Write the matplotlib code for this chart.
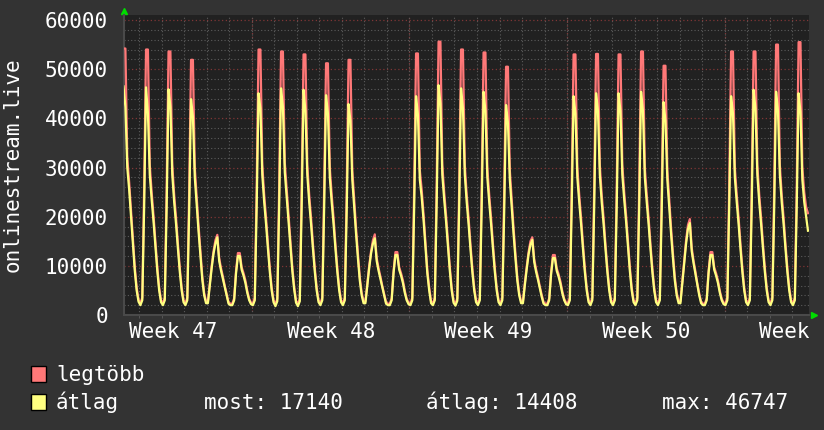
import numpy as np
import matplotlib

matplotlib.use("Agg")
import matplotlib.pyplot as plt
from matplotlib.patches import Patch
from matplotlib.ticker import FixedFormatter, FixedLocator, MultipleLocator
from matplotlib.transforms import Bbox, TransformedBbox


# one sample every 2 hours (middle of each 2h bin), first sample: Tuesday of
# week 47, 07:00 (hours counted from Monday 00:00 of week 47)
START_HOUR = 31
STEP_HOURS = 2
VIEW_HOURS = (31.5, 762.1)

# "legtöbb" = maximum, one row per day
MAX_W47 = [
    54200, 54200, 32000, 27000, 21200, 15500, 9800, 5600, 3100,
    2400, 3500, 26000, 54000, 54000, 30500, 25000, 20200, 15000, 9800, 5600, 3000,
    2400, 3500, 26000, 53600, 53600, 30500, 24500, 19800, 14500, 9600, 5600, 3000,
    2400, 3500, 25000, 51900, 51900, 30000, 24000, 18200, 13000, 7900, 4500, 2800,
    2800, 6500, 10000, 13000, 15200, 16300, 11600, 9500, 7800, 5900, 4200, 2600,
    2300, 2300, 3400, 9000, 12600, 12600, 9700, 8500, 7000, 4900, 3300, 2500,
]
MAX_W48 = [
    2300, 3500, 26000, 54000, 54000, 30500, 24500, 19800, 14500, 9600, 5600, 3000,
    2200, 3300, 26000, 53600, 53600, 31000, 25500, 20300, 15000, 9800, 5800, 2900,
    2200, 3300, 26000, 53000, 53000, 30500, 24500, 19800, 14500, 9600, 5600, 3000,
    2400, 3500, 26000, 51200, 51200, 30000, 24500, 19800, 14500, 9600, 5600, 3000,
    2400, 3500, 25000, 51900, 51900, 29500, 23500, 17700, 12500, 7700, 4500, 2800,
    2800, 6500, 10000, 13000, 15200, 16400, 11600, 9500, 7800, 5900, 4200, 2600,
    2300, 2300, 3400, 9000, 12800, 12800, 9700, 8500, 7000, 4900, 3300, 2500,
]
MAX_W49 = [
    2300, 3500, 26000, 53200, 53200, 29500, 25500, 20500, 14800, 9200, 5600, 2800,
    2400, 3500, 27000, 55600, 55600, 30500, 25000, 20300, 15000, 9800, 5600, 2900,
    2300, 3400, 26000, 54000, 54000, 30500, 24500, 19800, 14500, 9600, 5600, 3000,
    2400, 3500, 26000, 53400, 53400, 30000, 24500, 19800, 14500, 9600, 5600, 3000,
    2400, 3500, 25000, 50500, 50500, 29500, 23500, 17700, 12500, 7700, 4500, 2800,
    2800, 6500, 9800, 12800, 15000, 15800, 11400, 9300, 7700, 5800, 4100, 2600,
    2300, 2300, 3400, 8700, 12200, 12200, 9500, 8300, 6800, 4800, 3300, 2500,
]
MAX_W50 = [
    2400, 3500, 26000, 53000, 53000, 30000, 24500, 19800, 14500, 9600, 5600, 3000,
    2400, 3500, 26000, 53100, 53100, 30500, 24500, 19800, 14500, 9600, 5600, 3000,
    2400, 3500, 26000, 53000, 53000, 30500, 25000, 20300, 15000, 9800, 5600, 3000,
    2400, 3500, 26000, 53600, 53600, 30000, 24500, 19800, 14500, 9600, 5600, 3000,
    2400, 3500, 25000, 50700, 50700, 29500, 23500, 17700, 12500, 7700, 4500, 2800,
    2800, 7000, 11000, 15200, 18300, 19500, 13700, 11000, 8800, 6400, 4400, 2700,
    2300, 2300, 3400, 9000, 12800, 12800, 9700, 8500, 7000, 4900, 3300, 2500,
]
MAX_W51 = [
    2400, 3500, 26000, 53600, 53600, 30000, 24500, 19800, 14500, 9600, 5600, 3000,
    2400, 3500, 26000, 53600, 53600, 30500, 24500, 19800, 14500, 9600, 5600, 3000,
    2400, 3500, 26000, 55000, 55000, 30500, 24500, 19800, 14500, 9600, 5600, 3000,
    2400, 3500, 26000, 55500, 55500, 30000, 25000, 22000, 20700,
]

# "átlag" = average
AVG_W47 = [
    46500, 42300, 30000, 25500, 20000, 14500, 9000, 5000, 2700,
    2000, 3000, 22000, 46300, 41000, 28500, 23500, 19000, 14000, 9000, 5000, 2600,
    2000, 3000, 22000, 45900, 42300, 28500, 23000, 18500, 13500, 8800, 5000, 2600,
    2000, 3000, 21000, 43900, 40300, 28000, 22500, 17000, 12000, 7200, 4000, 2400,
    2400, 6000, 9500, 12500, 14500, 15800, 11000, 9000, 7300, 5500, 3800, 2300,
    2000, 2000, 3000, 8500, 12000, 12000, 9200, 8000, 6500, 4500, 3000, 2200,
]
AVG_W48 = [
    2000, 3000, 22000, 45100, 42000, 28500, 23000, 18500, 13500, 8800, 5000, 2600,
    1800, 2800, 22000, 46100, 42300, 29000, 24000, 19000, 14000, 9000, 5200, 2500,
    1800, 2800, 22000, 45800, 41500, 28500, 23000, 18500, 13500, 8800, 5000, 2600,
    2000, 3000, 22000, 44700, 41000, 28000, 23000, 18500, 13500, 8800, 5000, 2600,
    2000, 3000, 21000, 42900, 39500, 27500, 22000, 16500, 11500, 7000, 4000, 2400,
    2400, 6000, 9500, 12500, 14500, 15600, 11000, 9000, 7300, 5500, 3800, 2300,
    2000, 2000, 3000, 8500, 12200, 12200, 9200, 8000, 6500, 4500, 3000, 2200,
]
AVG_W49 = [
    2000, 3000, 22000, 44500, 40700, 27500, 24000, 19300, 13800, 8500, 5000, 2400,
    2000, 3000, 23000, 46747, 43000, 28500, 23500, 19000, 14000, 9000, 5000, 2500,
    1900, 2900, 22000, 46100, 42000, 28500, 23000, 18500, 13500, 8800, 5000, 2600,
    2000, 3000, 22000, 45400, 41500, 28000, 23000, 18500, 13500, 8800, 5000, 2600,
    2000, 3000, 21000, 42700, 39000, 27500, 22000, 16500, 11500, 7000, 4000, 2400,
    2400, 6000, 9300, 12300, 14300, 15300, 10800, 8800, 7200, 5400, 3700, 2300,
    2000, 2000, 3000, 8200, 11600, 11600, 9000, 7800, 6300, 4400, 3000, 2200,
]
AVG_W50 = [
    2000, 3000, 22000, 44500, 41000, 28000, 23000, 18500, 13500, 8800, 5000, 2600,
    2000, 3000, 22000, 45100, 41500, 28500, 23000, 18500, 13500, 8800, 5000, 2600,
    2000, 3000, 22000, 45100, 41500, 28500, 23500, 19000, 14000, 9000, 5000, 2600,
    2000, 3000, 22000, 45400, 41500, 28000, 23000, 18500, 13500, 8800, 5000, 2600,
    2000, 3000, 21000, 43300, 39500, 27500, 22000, 16500, 11500, 7000, 4000, 2400,
    2400, 6500, 10500, 14500, 17500, 18700, 13000, 10500, 8300, 6000, 4000, 2400,
    2000, 2000, 3000, 8500, 12200, 12200, 9200, 8000, 6500, 4500, 3000, 2200,
]
AVG_W51 = [
    2000, 3000, 22000, 44500, 41000, 28000, 23000, 18500, 13500, 8800, 5000, 2600,
    2000, 3000, 22000, 45800, 42000, 28500, 23000, 18500, 13500, 8800, 5000, 2600,
    2000, 3000, 22000, 45400, 41500, 28500, 23000, 18500, 13500, 8800, 5000, 2600,
    2000, 3000, 22000, 45100, 41300, 27500, 23000, 20000, 17140,
]

WEEK_LABELS = ["Week 47", "Week 48", "Week 49", "Week 50", "Week 51"]
SERIES_LABELS = ["legtöbb", "átlag"]
STATS = [("most", 17140), ("átlag", 14408), ("max", 46747)]

BACK = "#333333"
CANVAS = "#212121"
GRID = "#5c5c5c"
MGRID = "#7f3636"
AXIS = "#4a4a4a"
FONT_COLOR = "#ffffff"
ARROW = "#00dd00"
MAX_COLOR = "#ff7878"
AVG_COLOR = "#ffff80"
FONT = {"family": "DejaVu Sans Mono", "size": 15}

W, H = 824, 430


def main() -> None:
    max_vals = np.array(MAX_W47 + MAX_W48 + MAX_W49 + MAX_W50 + MAX_W51, dtype=float)
    avg_vals = np.array(AVG_W47 + AVG_W48 + AVG_W49 + AVG_W50 + AVG_W51, dtype=float)
    hours = START_HOUR + STEP_HOURS * np.arange(len(avg_vals))

    fig = plt.figure(figsize=(W / 100, H / 100), dpi=100, facecolor=BACK)
    ax = fig.add_axes([124 / W, (H - 315) / H, 685 / W, 300 / H])
    ax.set_facecolor(CANVAS)

    ax.plot(hours, max_vals, color=MAX_COLOR, lw=1.6, zorder=3)
    ax.plot(hours, avg_vals, color=AVG_COLOR, lw=1.6, zorder=4)

    ax.set_xlim(*VIEW_HOURS)
    ax.set_ylim(0, 60000 * 300 / 295)

    # y grid: 10000 major (red), 2000 minor (grey)
    ax.yaxis.set_major_locator(MultipleLocator(10000))
    ax.yaxis.set_minor_locator(MultipleLocator(2000))
    ax.grid(which="major", axis="y", color=MGRID, linestyle=(0, (1, 2)), lw=0.9, zorder=1)
    ax.grid(which="minor", axis="both", color=GRID, linestyle=(0, (1, 2)), lw=0.8, zorder=0)

    # x: one line per day, red line per week, labels mid-week
    week_starts = np.arange(168, VIEW_HOURS[1], 168)
    label_pos = 84 + 168 * np.arange(len(WEEK_LABELS))
    ax.xaxis.set_minor_locator(MultipleLocator(24))
    ax.xaxis.set_major_locator(FixedLocator(label_pos))
    ax.xaxis.set_major_formatter(FixedFormatter(WEEK_LABELS))
    for ws in week_starts:
        ax.axvline(ws, color=MGRID, linestyle=(0, (1, 2)), lw=0.9, zorder=1)

    ax.tick_params(axis="x", which="major", length=0, pad=5, colors=FONT_COLOR, labelsize=FONT["size"])
    ax.tick_params(axis="x", which="minor", length=2, color=GRID)
    ax.tick_params(axis="y", which="both", length=0, pad=11.5, colors=FONT_COLOR, labelsize=FONT["size"])
    for lab in ax.get_xticklabels() + ax.get_yticklabels():
        lab.set_fontfamily(FONT["family"])

    # the last week label is cut at the canvas edge, as in rrdtool
    clip = TransformedBbox(Bbox([[0, 0], [809 / W, 1]]), fig.transFigure)
    for lab in ax.get_xticklabels():
        lab.set_clip_box(clip)
        lab.set_clip_on(True)

    for side in ("top", "right"):
        ax.spines[side].set_visible(False)
    for side in ("left", "bottom"):
        ax.spines[side].set_color(AXIS)
        ax.spines[side].set_linewidth(1.5)

    ax.set_ylabel("onlinestream.live", color=FONT_COLOR, fontdict=FONT)
    ax.yaxis.set_label_coords((23 - 124) / 685, 0.5)

    # rrdtool style arrows
    ax.plot([0], [1 + 4.5 / 300], marker="^", ms=4.5, color=ARROW, transform=ax.transAxes, clip_on=False)
    ax.plot([1 + 5 / 685], [0], marker=">", ms=4.5, color=ARROW, transform=ax.transAxes, clip_on=False)

    handles = [
        Patch(facecolor=MAX_COLOR, edgecolor="black", lw=1, label=SERIES_LABELS[0]),
        Patch(facecolor=AVG_COLOR, edgecolor="black", lw=1, label=SERIES_LABELS[1]),
    ]
    fig.legend(
        handles=handles,
        loc="upper left",
        bbox_to_anchor=(31 / W, 1 - 365 / H),
        frameon=False,
        prop=FONT,
        labelcolor=FONT_COLOR,
        handlelength=0.7,
        handleheight=0.8,
        handletextpad=0.5,
        labelspacing=0.31,
        borderpad=0,
        borderaxespad=0,
    )

    stat_x = [204, 426, 662]
    for (name, value), x in zip(STATS, stat_x):
        fig.text(x / W, 1 - 409 / H, f"{name}: {value}", color=FONT_COLOR, fontdict=FONT, va="baseline")

    fig.savefig("out.png", dpi=100, facecolor=BACK)
    plt.close(fig)


if __name__ == "__main__":
    main()
